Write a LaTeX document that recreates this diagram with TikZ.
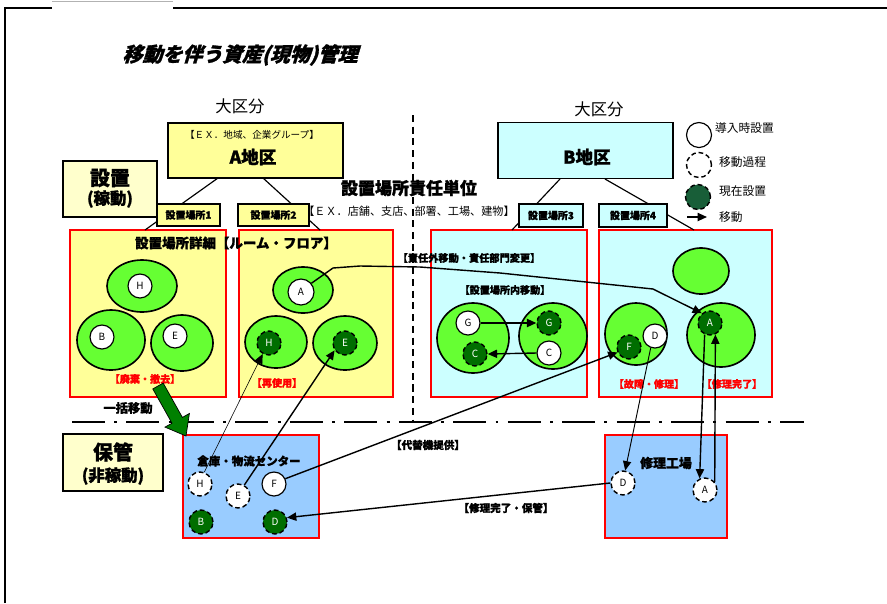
\documentclass[tikz,border=0pt]{standalone}
\usepackage{fontspec}
\setmainfont{Noto Sans CJK JP}[BoldFeatures={FakeBold=1.2}]
\newfontfamily\titlefont{Noto Sans CJK JP}[BoldFeatures={FakeSlant=0.3, FakeBold=1.5}]
\usetikzlibrary{arrows.meta,positioning}

\definecolor{yelBox}{RGB}{255,255,153}
\definecolor{cyanBox}{RGB}{204,255,255}
\definecolor{tagYel}{RGB}{255,255,204}
\definecolor{storeBlue}{RGB}{153,204,255}
\definecolor{roomGreen}{RGB}{102,255,51}
\definecolor{nowGreen}{RGB}{0,110,0}
\definecolor{legGreen}{RGB}{24,94,56}
\definecolor{bulkGreen}{RGB}{0,128,0}

\newcommand{\fsz}[1]{\fontsize{#1}{#1}\selectfont}

\begin{document}
\begin{tikzpicture}[
  x=0.03cm,
  y=-0.03cm,
  >={Triangle[length=8pt,width=7pt]},
  frameline/.style={line width=1pt},
  boxwh/.style 2 args={minimum width=#1*0.3mm, minimum height=#2*0.3mm},
  district/.style={draw, line width=1.3pt, inner sep=0pt},
  tagbox/.style={draw, line width=1.3pt, inner sep=0pt, font=\bfseries\fsz{8.5}},
  sitebox/.style={draw=red, line width=1.3pt, inner sep=0pt},
  treeline/.style={line width=1pt},
  room/.style={draw, line width=1.4pt, fill=roomGreen},
  newmark/.style={circle, draw, line width=1pt, fill=white,
    minimum size=24*0.3mm, inner sep=0pt, font=\fsz{8.5}},
  movemark/.style={newmark, line width=1.2pt, dash pattern=on 4pt off 2.5pt},
  nowmark/.style={movemark, fill=nowGreen, text=white},
  move/.style={->, line width=1.2pt},
  thinmove/.style={->, line width=0.5pt},
  labelstyle/.style={font=\bfseries\fsz{8.6}, inner sep=0pt},
  redlabel/.style={labelstyle, text=red}
]
\useasboundingbox (0,0) rectangle (887,603);

% Frame
\draw[frameline] (5,603) -- (5,8) -- (52,8);
\draw[frameline] (173,8) -- (887,8);
\draw[gray!60, line width=0.5pt] (52,1) -- (173,1);

% Title
\node[font=\titlefont\bfseries\fsz{17}] (title) at (240,55)
  {移動を伴う資産(現物)管理};

% Districts
\node[font=\fsz{14}] (bigA) at (240,106) {大区分};
\node[font=\fsz{14}] (bigB) at (599,109) {大区分};
\node[district, fill=yelBox, boxwh={175}{55}] (distA) at (255.5,150.5) {};
\node[district, fill=cyanBox, boxwh={175}{56}] (distB) at (585.5,150.5) {};
\node[font=\fsz{8.2}] (exA) at (252,135) {【ＥＸ．地域、企業グループ】};
\node[font=\bfseries\fsz{15}] (nameA) at (253,157) {A地区};
\node[font=\bfseries\fsz{15}] (nameB) at (587,157) {B地区};

% Status boxes
\node[district, fill=tagYel, boxwh={94}{56}] (setBox) at (110,189) {};
\node[font=\bfseries\fsz{17}] (setT) at (110,178) {設置};
\node[font=\bfseries\fsz{14}] (setS) at (110,199) {(稼動)};
\node[district, fill=tagYel, boxwh={100}{57}] (keepBox) at (113,462.5) {};
\node[font=\bfseries\fsz{17}] (keepT) at (113,452) {保管};
\node[font=\bfseries\fsz{14}] (keepS) at (113,476) {(非稼動)};

% Site detail boxes
\node[sitebox, fill=yelBox, boxwh={156}{167}] (detA1) at (148,313.5) {};
\node[sitebox, fill=yelBox, boxwh={154}{167}] (detA2) at (316,313.5) {};
\node[sitebox, fill=cyanBox, boxwh={156}{167}] (detB3) at (509,313.5) {};
\node[sitebox, fill=cyanBox, boxwh={173}{167}] (detB4) at (685.5,313.5) {};
\node[sitebox, fill=storeBlue, boxwh={136}{103}] (store) at (251,486.5) {};
\node[sitebox, fill=storeBlue, boxwh={122}{103}] (repair) at (666,486.5) {};

% Tree lines
\coordinate (tA1) at (218,178);
\coordinate (bA1) at (145,230);
\coordinate (tA2) at (263,178);
\coordinate (bA2) at (320,230);
\coordinate (tB3) at (560,179);
\coordinate (bB3) at (512,230);
\coordinate (tB4) at (605,179);
\coordinate (bB4) at (694,230);
\draw[treeline] (tA1) -- (bA1);
\draw[treeline] (tA2) -- (bA2);
\draw[treeline] (tB3) -- (bB3);
\draw[treeline] (tB4) -- (bB4);

% Site tags
\node[tagbox, fill=yelBox, boxwh={63}{22}] (site1) at (188.5,215) {設置場所1};
\node[tagbox, fill=yelBox, boxwh={71}{22}] (site2) at (273.5,215) {設置場所2};
\node[tagbox, fill=cyanBox, boxwh={64}{23}] (site3) at (551,215.5) {設置場所3};
\node[tagbox, fill=cyanBox, boxwh={68}{23}] (site4) at (633,215.5) {設置場所4};

\node[font=\bfseries\fsz{14.5}] (respT) at (409,188) {設置場所責任単位};
\node[font=\fsz{9.5}] (respEx) at (409,211) {【ＥＸ．店舗、支店、部署、工場、建物】};
\node[labelstyle, font=\bfseries\fsz{11.5}] (detailT) at (236,243)
  {設置場所詳細【ルーム・フロア】};

% Site 1
\draw[room] (142,286) ellipse [x radius=35, y radius=26];
\draw[room] (111,340) ellipse [x radius=34, y radius=30];
\draw[room] (182,343) ellipse [x radius=31, y radius=28];
\node[newmark] (a1H) at (140,286) {H};
\node[newmark] (a1B) at (102,337) {B};
\node[newmark] (a1E) at (175,336) {E};
\node[redlabel] (scrapT) at (145,379) {【廃棄・撤去】};

% Site 2
\draw[room] (303,290) ellipse [x radius=30, y radius=23];
\draw[room] (276,342) ellipse [x radius=31, y radius=26];
\draw[room] (345,343) ellipse [x radius=32, y radius=27];
\node[newmark, minimum size=26*0.3mm] (a2A) at (301,292) {A};
\node[nowmark] (a2H) at (269,343) {H};
\node[nowmark] (a2E) at (345,343) {E};
\node[redlabel] (reuseT) at (277,383) {【再使用】};

% Site 3
\node[labelstyle] (innerT) at (505,290) {【設置場所内移動】};
\draw[room] (473,338) ellipse [x radius=36, y radius=35];
\draw[room] (553,336) ellipse [x radius=34, y radius=33];
\node[newmark] (b3Gw) at (468,323) {G};
\node[nowmark] (b3Cn) at (475,354) {C};
\node[nowmark] (b3Gn) at (549,323) {G};
\node[newmark] (b3Cw) at (549,353) {C};

% Site 4
\draw[room] (701,271) ellipse [x radius=28, y radius=23];
\draw[room] (636,334) ellipse [x radius=31, y radius=31];
\draw[room] (721,335) ellipse [x radius=34, y radius=32];
\node[newmark] (b4D) at (655,336) {D};
\node[nowmark] (b4F) at (629,347) {F};
\node[nowmark] (b4A) at (710,323) {A};
\node[redlabel] (brokenT) at (649,384) {【故障・修理】};
\node[redlabel] (fixedT) at (732,384) {【修理完了】};

% Storage
\node[labelstyle, font=\bfseries\fsz{9.8}] (storeT) at (249,461) {倉庫・物流センター};
\node[movemark] (sH) at (200,484) {H};
\node[movemark] (sE) at (238,496) {E};
\node[newmark] (sF) at (274,484) {F};
\node[nowmark] (sB) at (201,522) {B};
\node[nowmark] (sD) at (275,522) {D};

% Repair factory
\node[labelstyle, font=\bfseries\fsz{11}] (factT) at (666,463) {修理工場};
\node[movemark] (rD) at (623,483) {D};
\node[movemark] (rA) at (705,490) {A};

% Other labels
\node[labelstyle, font=\bfseries\fsz{10.5}] (bulkT) at (128,408) {一括移動};
\node[labelstyle, font=\bfseries\fsz{8.7}] (respMoveT) at (469,258) {【責任外移動・責任部門変更】};
\node[labelstyle, font=\bfseries\fsz{9}] (altT) at (428,445) {【代替機提供】};
\node[labelstyle, font=\bfseries\fsz{9}] (backT) at (506,508) {【修理完了・保管】};

% Legend
\node[newmark, minimum size=25*0.3mm] (lgNew) at (699,135) {};
\node[movemark, minimum size=25*0.3mm] (lgMove) at (699,165) {};
\node[movemark, minimum size=25*0.3mm, fill=legGreen] (lgNow) at (698,197) {};
\coordinate (lgArrS) at (687,217);
\coordinate (lgArrE) at (707,217);
\draw[move] (lgArrS) -- (lgArrE);
\node[anchor=west, font=\fsz{10}, inner sep=0pt] (lgNewT) at (715,128) {導入時設置};
\node[anchor=west, font=\fsz{10}, inner sep=0pt] (lgMoveT) at (719,162) {移動過程};
\node[anchor=west, font=\fsz{10}, inner sep=0pt] (lgNowT) at (719,191) {現在設置};
\node[anchor=west, font=\fsz{10}, inner sep=0pt] (lgArrT) at (719,217) {移動};

% Dividers
\draw[line width=1.2pt, dash pattern=on 6pt off 4pt] (413,115) -- (413,420);
\draw[line width=1.5pt, dash pattern=on 28pt off 8pt on 2.5pt off 8pt] (72,422) -- (804,422);

% Bulk move arrow
\draw[line width=0.6pt, fill=bulkGreen]
  (163.2,383.1) -- (182.4,417.4) -- (189.4,413.5) -- (186,436)
  -- (165,427.1) -- (172,423.2) -- (152.8,388.9) -- cycle;

% Moves
\draw[move] (a2A.40) -- (333,268) -- (360,266) -- (420,267) -- (500,273)
  -- (653,289) -- (b4A.130);
\draw[move] (b3Gw.east) -- (b3Gn.west);
\draw[move] (b3Cw.west) -- (b3Cn.east);
\draw[thinmove] (sH.70) -- (a2H.240);
\draw[move] (sE.60) -- (a2E.215);
\draw[move] (sF.25) -- (b4F.205);
\draw[move, line width=0.8pt] (b4D.250) -- (rD.80);
\draw[move] (rD.west) -- (sD.20);
\draw[move] (b4A.245) -- (rA.115);
\draw[move] (rA.40) -- (b4A.295);
\end{tikzpicture}
\end{document}
